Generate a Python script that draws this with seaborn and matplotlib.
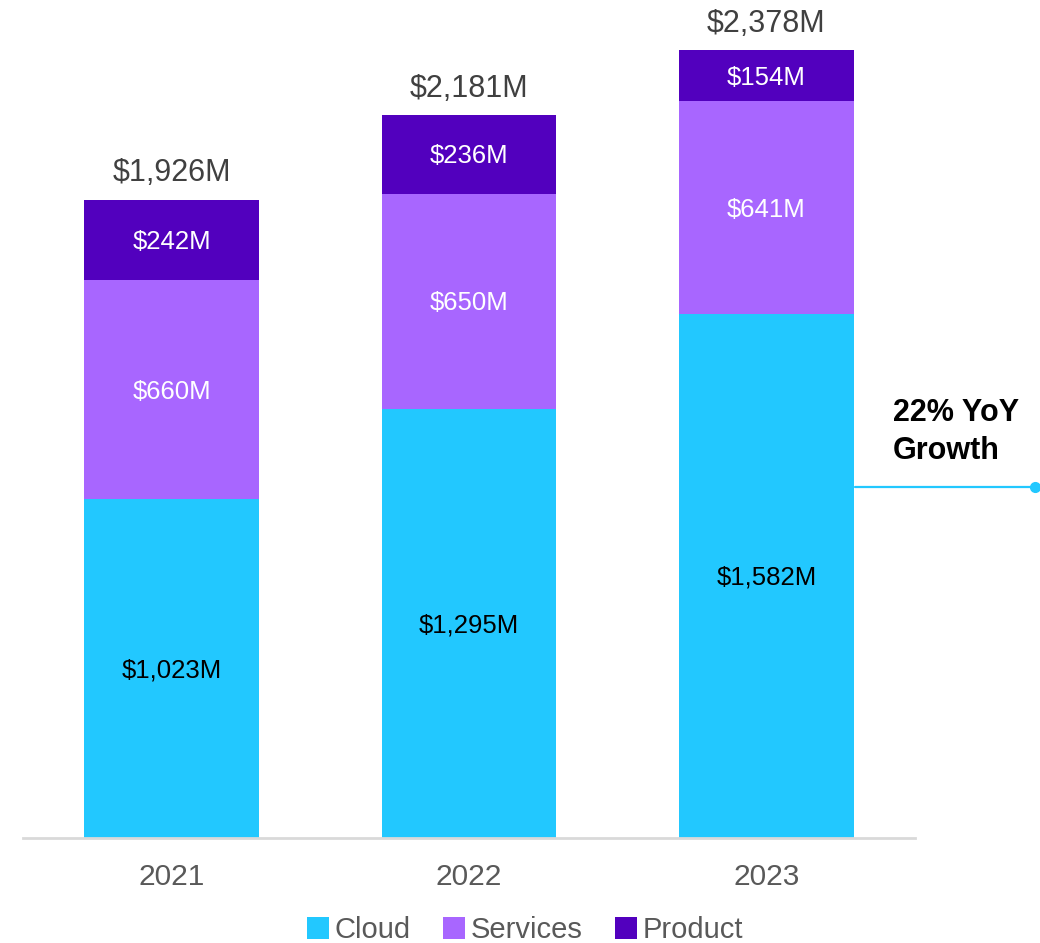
import matplotlib
matplotlib.use("Agg")
import matplotlib.pyplot as plt
from matplotlib.patches import Patch
import seaborn as sns
import pandas as pd
import numpy as np

years = ["2021", "2022", "2023"]
cloud = [1023, 1295, 1582]
services = [660, 650, 641]
product = [242, 236, 154]
totals = [1926, 2181, 2378]
series_names = ["Cloud", "Services", "Product"]
series_colors = ["#22C8FF", "#A866FF", "#5200BE"]
label_colors = ["black", "white", "white"]
growth_note = "22% YoY\nGrowth"

sns.set_theme(style="white")
plt.rcParams["font.family"] = ["Liberation Sans", "DejaVu Sans"]

fig = plt.figure(figsize=(10.4, 9.43), dpi=100)
ax = fig.add_axes([23 / 1040, 105 / 943, 892 / 1040, 838 / 943])

bar_w = 0.588
bottom = np.zeros(len(years))
for name, vals, color, lc in zip(series_names, [cloud, services, product],
                                 series_colors, label_colors):
    df = pd.DataFrame({"year": years, "value": vals})
    sns.barplot(data=df, x="year", y="value", order=years, color=color,
                width=bar_w, bottom=bottom, ax=ax, saturation=1,
                edgecolor="none", linewidth=0)
    for i, v in enumerate(vals):
        ax.annotate(f"${v:,}M", xy=(i, bottom[i] + v / 2), xytext=(0, -1.5),
                    textcoords="offset points", ha="center", va="center",
                    fontsize=18.5, color=lc)
    bottom = bottom + np.array(vals)

for i, t in enumerate(totals):
    ax.annotate(f"${t:,}M", xy=(i, t), xytext=(0, 19), textcoords="offset points",
                ha="center", va="center", fontsize=22, color="#404040")

ax.set_xlim(-0.5, 2.5)
ax.set_ylim(0, 2529)
ax.set_xlabel("")
ax.set_ylabel("")
ax.set_yticks([])
ax.tick_params(axis="x", length=0, pad=18, labelsize=21.5, labelcolor="#595959")
for s in ["top", "right", "left"]:
    ax.spines[s].set_visible(False)
ax.spines["bottom"].set_color("#D9D9D9")
ax.spines["bottom"].set_linewidth(2)

# growth callout to the right of the latest bar
line_y = 1059
ax.plot([2 + bar_w / 2 + 0.005, 2.905], [line_y, line_y], color="#22C8FF",
        lw=1.6, clip_on=False)
ax.plot([2.905], [line_y], marker="o", ms=7, color="#22C8FF", clip_on=False)
ax.text(2.425, 1225, growth_note, ha="left", va="center", fontsize=22,
        fontweight="bold", color="black", linespacing=1.38)

handles = [Patch(facecolor=c, edgecolor="none") for c in series_colors]
fig.legend(handles, series_names, loc="center", bbox_to_anchor=(525 / 1040, 1 - 930 / 943),
           ncol=3, frameon=False, fontsize=21, handlelength=0.75, handleheight=0.75,
           handletextpad=0.2, columnspacing=1.1, labelcolor="#595959")

fig.savefig("out.png", dpi=100)
